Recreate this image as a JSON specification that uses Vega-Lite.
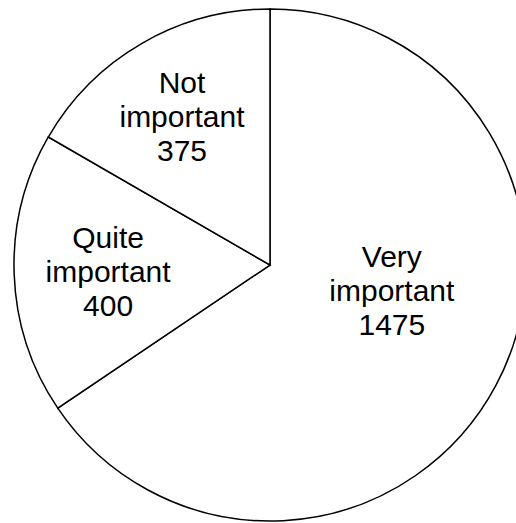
{
  "$schema": "https://vega.github.io/schema/vega-lite/v6.json",
  "width": 540,
  "height": 530,
  "padding": 0,
  "autosize": {"type": "none"},
  "background": "white",
  "config": {"view": {"stroke": null}},
  "data": {
    "values": [
      {"category": "Very important", "count": 1475},
      {"category": "Quite important", "count": 400},
      {"category": "Not important", "count": 375}
    ]
  },
  "transform": [
    {"stack": "count", "groupby": [], "sort": [{"field": "category", "order": "descending"}], "as": ["start", "end"]},
    {"calculate": "(datum.start + datum.end) / 2", "as": "mid"},
    {"calculate": "datum.category + ' ' + datum.count", "as": "label"}
  ],
  "layer": [
    {
      "mark": {"type": "arc", "outerRadius": 256, "fill": "white", "stroke": "black", "strokeWidth": 1.5},
      "encoding": {
        "theta": {"field": "start", "type": "quantitative", "stack": null, "scale": {"type": "linear", "domain": [0, 2250], "nice": false, "range": [0, 6.283185307179586]}},
        "theta2": {"field": "end"}
      }
    },
    {
      "transform": [{"filter": "datum.category == 'Not important'"}],
      "mark": {"type": "text", "radius": 172, "dx": -2, "dy": -32, "font": "Liberation Sans", "fontSize": 30, "lineHeight": 34, "lineBreak": " ", "align": "center", "baseline": "middle", "color": "black"},
      "encoding": {"theta": {"field": "mid", "type": "quantitative", "stack": null}, "text": {"field": "label"}}
    },
    {
      "transform": [{"filter": "datum.category == 'Quite important'"}],
      "mark": {"type": "text", "radius": 162, "dy": -32, "font": "Liberation Sans", "fontSize": 30, "lineHeight": 34, "lineBreak": " ", "align": "center", "baseline": "middle", "color": "black"},
      "encoding": {"theta": {"field": "mid", "type": "quantitative", "stack": null}, "text": {"field": "label"}}
    },
    {
      "transform": [{"filter": "datum.category == 'Very important'"}],
      "mark": {"type": "text", "radius": 138, "dy": -72, "font": "Liberation Sans", "fontSize": 30, "lineHeight": 34, "lineBreak": " ", "align": "center", "baseline": "middle", "color": "black"},
      "encoding": {"theta": {"field": "mid", "type": "quantitative", "stack": null}, "text": {"field": "label"}}
    }
  ]
}
